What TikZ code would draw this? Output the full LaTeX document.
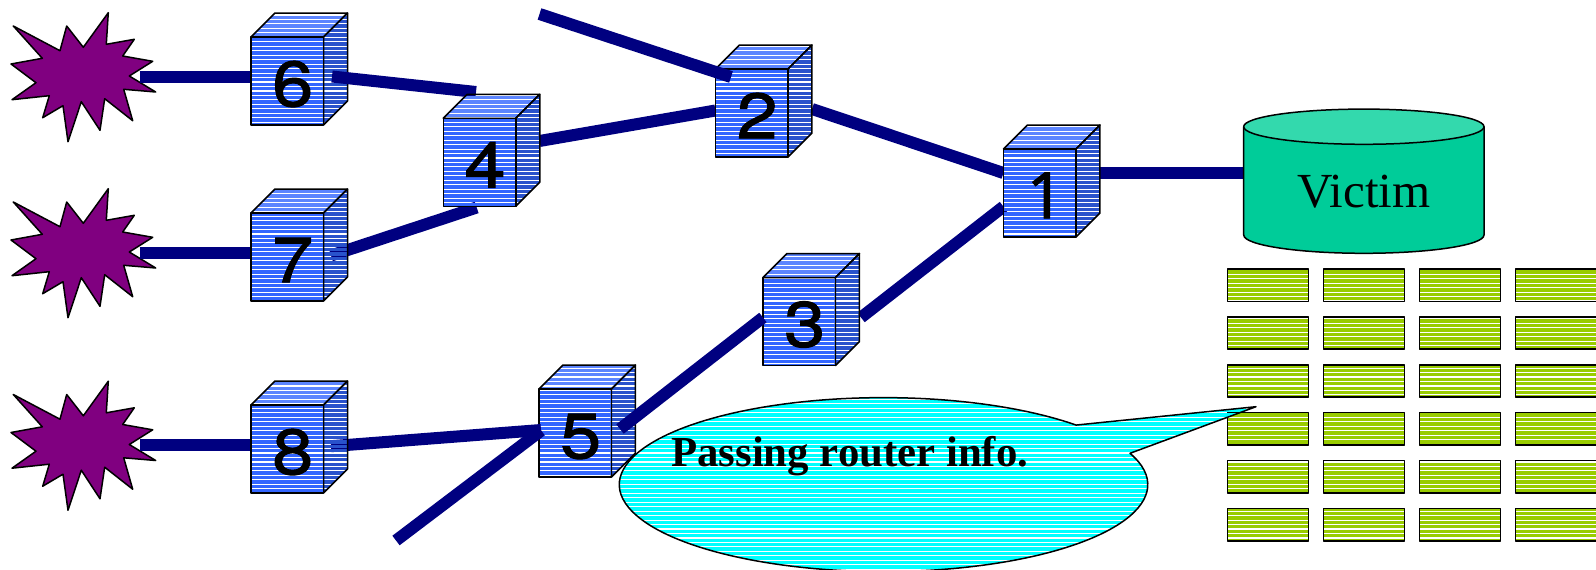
\documentclass[tikz,border=0pt]{standalone}
\usepackage{fontspec}
\setmainfont{Liberation Serif}
\newfontfamily\digitfont[FakeStretch=1.15,FakeBold=1.5]{TeX Gyre Heros}
\newfontfamily\onefont[FakeBold=1.5]{Noto Sans}
\pgfdeclarelayer{lines}
\pgfdeclarelayer{backcubes}
\pgfdeclarelayer{midline}
\pgfdeclarelayer{frontcubes}
\pgfdeclarelayer{toplines}
\pgfdeclarelayer{lastcubes}
\pgfdeclarelayer{callouts}
\pgfsetlayers{lines,backcubes,midline,frontcubes,toplines,lastcubes,callouts,main}
\definecolor{linknavy}{HTML}{000080}
\definecolor{cubefront}{HTML}{3366FF}
\definecolor{cubetop}{HTML}{5C85FF}
\definecolor{cubeside}{HTML}{2952CC}
\definecolor{starfill}{HTML}{800080}
\definecolor{cyltop}{HTML}{33D9AD}
\definecolor{cylbody}{HTML}{00CC99}
\definecolor{brickgreen}{HTML}{99CC00}
\definecolor{bubble}{HTML}{00FFFF}
\tikzset{
  x=1pt,y=-1pt,
  link/.style={draw=linknavy,line width=12pt},
  edge/.style={draw=black,line width=1.5pt,line join=round},
  routernode/.style={rectangle,inner sep=0pt,outer sep=0pt,minimum width=72.5pt,minimum height=88pt,
     text height=50.5pt,text depth=0pt,font=\digitfont\fontsize{64}{64}\selectfont},
}
% colour bars with see-through gaps, clipped to a path
\newcommand\hatched[4]{%
  \begin{scope}
    \clip #1;
    \pgfmathtruncatemacro\ka{floor((#3-1.55)/4.47)-1}
    \pgfmathtruncatemacro\kb{ceil((#4-1.55)/4.47)+1}
    \foreach \k in {\ka,...,\kb}{
      \pgfmathsetmacro\ya{1.55+\k*4.47+0.55}
      \pgfmathsetmacro\yb{1.55+(\k+1)*4.47-0.55}
      \fill[#2] (0,\ya) rectangle (1596,\yb);
    }
  \end{scope}%
  \draw[edge] #1;%
}
\newcommand\routerbox[2]{% node name, y of front top
  \pgfmathsetmacro\yt{#2-24}
  \pgfmathsetmacro\yb{#2+88}
  \hatched{(#1.north west) -- ++(24,-24) -- ++(72.5,0) -- ++(-24,24) -- cycle}{cubetop}{\yt}{#2}
  \hatched{(#1.north east) -- ++(24,-24) -- ++(0,88) -- ++(-24,24) -- cycle}{cubeside}{\yt}{\yb}
  \hatched{(#1.north west) rectangle (#1.south east)}{cubefront}{#2}{\yb}
}
\newcommand\burst[1]{% vertical shift
  \begin{scope}[yshift=-#1pt]
  \draw[edge,fill=starfill] (13.3,26) -- (60,50.7) -- (66.7,26) -- (83.3,47.3) -- (108.3,12.7) -- (106.3,44.3)
    -- (134.3,39.3) -- (122.7,56) -- (152.7,61.3) -- (129.3,76) -- (155.7,92) -- (123.7,89.3) -- (132.7,120.7)
    -- (104.7,98.7) -- (100,130.3) -- (81.3,101.7) -- (68,141.7) -- (63,105.7) -- (42.7,117.7) -- (49.3,95.7)
    -- (12,99.7) -- (36,82.7) -- (11,64) -- (42.3,58.3) -- cycle;
  \end{scope}
}
\begin{document}
\begin{tikzpicture}
\useasboundingbox (0,0) rectangle (1596,570);
% routers
\node[routernode] (n6) at (287.25,81) {\hspace*{11pt}6};
\node[routernode] (n7) at (287.25,257) {\hspace*{11pt}7};
\node[routernode] (n8) at (287.25,449) {\hspace*{11pt}8};
\node[routernode] (n4) at (479.5,162.3) {\hspace*{11pt}4};
\node[routernode] (n2) at (751.7,113) {\hspace*{11pt}2};
\node[routernode] (n1) at (1039.7,193) {\hspace*{11pt}{\onefont 1}};
\node[routernode] (n3) at (799.2,321.5) {\hspace*{11pt}3};
\node[routernode] (n5) at (575.2,433) {\hspace*{11pt}5};
\node[inner sep=0pt,outer sep=0pt,minimum width=240.3pt,text height=68.6pt,text depth=0pt,
      font=\fontsize{49}{49}\selectfont] (victim) at (1364,173) {Victim};
\node[inner sep=0pt,anchor=base west,font=\bfseries\fontsize{42.8}{50}\selectfont] (note) at (671,466.7) {Passing router info.};
% free ends
\coordinate (s1) at (139.5,76.5);
\coordinate (s2) at (139.5,252.5);
\coordinate (s3) at (139.5,445);
\coordinate (up) at (539.5,14);
\coordinate (down) at (396,540.5);

\begin{pgfonlayer}{lines}
  \burst{0}\burst{176}\burst{368.5}
  \foreach \c in {0,1,2,3}{
    \foreach \r in {0,...,5}{
      \pgfmathsetmacro\bx{1227.3+96*\c}
      \pgfmathsetmacro\by{269+47.9*\r}
      \pgfmathsetmacro\bX{\bx+81}
      \pgfmathsetmacro\bY{\by+32.3}
      \hatched{(\bx,\by) rectangle (\bX,\bY)}{brickgreen}{\by}{\bY}
    }
  }
  \draw[link] (s1) -- ([yshift=4.5pt]n6.west);
  \draw[link] (s2) -- ([yshift=4.5pt]n7.west);
  \draw[link] (s3) -- ([yshift=4pt]n8.west);
  \draw[link] ([shift={(43.75,-1.5)}]n7.center) -- ([shift={(-2.8,45.2)}]n4.center);
  \draw[link] ([shift={(60,-21.3)}]n4.center) -- ([yshift=2.5pt]n2.west);
  \draw[link] ([shift={(60.3,-4)}]n2.center) -- ([yshift=20pt]n1.west);
  \draw[link] ([shift={(61.8,-4)}]n3.center) -- ([yshift=-13.6pt]n1.west);
  \draw[link] ([shift={(60.3,-20)}]n1.center) -- (victim.west);
\end{pgfonlayer}

\begin{pgfonlayer}{backcubes}
  \routerbox{n6}{37}
  \routerbox{n7}{213}
\end{pgfonlayer}

\begin{pgfonlayer}{midline}
  \draw[link] ([shift={(44.75,-4.5)}]n6.center) -- ([shift={(-3.5,-70.3)}]n4.center);
\end{pgfonlayer}

\begin{pgfonlayer}{frontcubes}
  \routerbox{n4}{118.3}
  \routerbox{n2}{69}
  \routerbox{n1}{149}
  \routerbox{n3}{277.5}
  \routerbox{n5}{389}
  % victim drum
  \draw[edge,fill=cylbody] (1243.7,126.7) -- (1243.7,235) arc[start angle=180,end angle=360,x radius=120.15pt,y radius=18.3pt]
     -- (1484,126.7) -- cycle;
  \draw[edge,fill=cyltop] (1363.85,126.7) ellipse[x radius=120.15pt,y radius=17.6pt];
\end{pgfonlayer}

\begin{pgfonlayer}{toplines}
  \draw[link] (up) -- ([shift={(-20.7,-36)}]n2.center);
  \draw[link] ([shift={(43.75,-2.8)}]n8.center) -- ([shift={(-34.2,-3)}]n5.center);
  \draw[link] (down) -- ([shift={(-34,-2.5)}]n5.center);
  \draw[link] ([shift={(44.8,-4)}]n5.center) -- ([yshift=4pt]n3.west);
\end{pgfonlayer}

\begin{pgfonlayer}{lastcubes}
  \routerbox{n8}{405}
\end{pgfonlayer}

\begin{pgfonlayer}{callouts}
  \hatched{(1130,453.3) arc[start angle=21.1,end angle=-316.8,x radius=264.2pt,y radius=87pt] -- (1256,406.7) -- cycle}{bubble}{395}{572}
\end{pgfonlayer}
\end{tikzpicture}
\end{document}
